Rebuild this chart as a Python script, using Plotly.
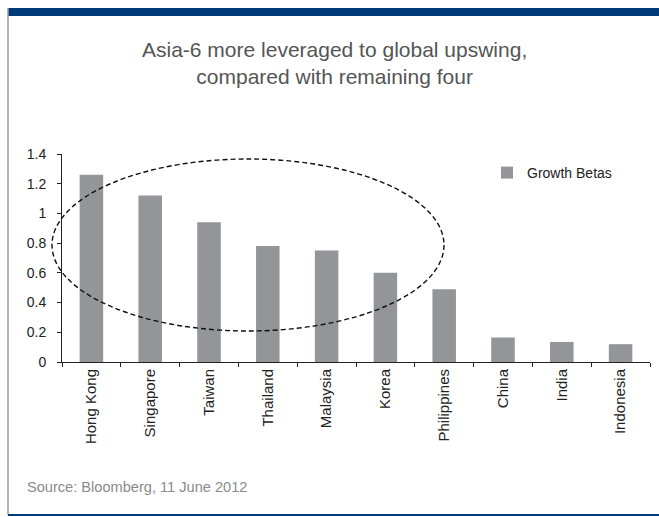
import plotly.graph_objects as go

# Growth betas by economy
countries = ["Hong Kong", "Singapore", "Taiwan", "Thailand", "Malaysia",
             "Korea", "Philippines", "China", "India", "Indonesia"]
growth_betas = [1.26, 1.12, 0.94, 0.78, 0.75, 0.60, 0.49, 0.165, 0.135, 0.12]
y_ticks = [0, 0.2, 0.4, 0.6, 0.8, 1, 1.2, 1.4]
y_tick_text = ["0", "0.2", "0.4", "0.6", "0.8", "1", "1.2", "1.4"]

FONT = "Liberation Sans, Arial, sans-serif"
NAVY = "#003a7a"
BAR_GREY = "#939598"

# Plot-area geometry in pixels, used to place paper-referenced decorations
PLOT_L, PLOT_W, PLOT_B, PLOT_H = 62, 588, 362, 208


def px_x(px):
    return (px - PLOT_L) / PLOT_W


def px_y(py):
    return (PLOT_B - py) / PLOT_H


fig = go.Figure()
fig.add_trace(go.Bar(
    x=countries, y=growth_betas, name="Growth Betas",
    marker=dict(color=BAR_GREY, line=dict(width=0)),
    width=0.4, showlegend=True,
))

# Page frame: navy band on top, grey rule on the left, navy rule at bottom
fig.add_shape(type="rect", xref="paper", yref="paper",
              x0=px_x(8), x1=px_x(670), y0=px_y(16), y1=px_y(8),
              fillcolor=NAVY, line=dict(width=0), layer="above")
fig.add_shape(type="line", xref="paper", yref="paper",
              x0=px_x(8), x1=px_x(8), y0=px_y(8), y1=px_y(515),
              line=dict(color="#9c9c9c", width=1.5))
fig.add_shape(type="line", xref="paper", yref="paper",
              x0=px_x(8), x1=px_x(670), y0=px_y(515), y1=px_y(515),
              line=dict(color=NAVY, width=2))

# Dashed ellipse around the Asia-6 group (extends past the y axis)
fig.add_shape(type="circle", xref="paper", yref="paper",
              x0=px_x(52), x1=px_x(444), y0=px_y(331), y1=px_y(159),
              line=dict(color="#111111", width=1.4, dash="5px,3px"),
              fillcolor="rgba(0,0,0,0)", layer="above")

fig.add_annotation(text="Asia-6 more leveraged to global upswing,<br>compared with remaining four",
                   xref="paper", yref="paper", x=px_x(334), y=px_y(63),
                   xanchor="center", yanchor="middle", showarrow=False,
                   font=dict(family=FONT, size=21, color="#555555"))
fig.add_annotation(text="Source: Bloomberg, 11 June 2012",
                   xref="paper", yref="paper", x=px_x(25), y=px_y(487),
                   xanchor="left", yanchor="middle", showarrow=False,
                   font=dict(family=FONT, size=14.6, color="#8a8a8a"))

fig.update_layout(
    width=659, height=517,
    margin=dict(l=PLOT_L, r=9, t=154, b=155),
    paper_bgcolor="white", plot_bgcolor="white",
    font=dict(family=FONT, color="#222222"),
    bargap=0.6,
    legend=dict(x=px_x(487), y=px_y(157), xanchor="left", yanchor="top",
                bgcolor="rgba(0,0,0,0)", font=dict(size=14, color="#222222"),
                itemwidth=30),
    xaxis=dict(type="category", range=[-0.5, 9.5], showline=True,
               linecolor="#222222", linewidth=1,
               ticks="outside", ticklen=4, tickcolor="#222222",
               tickson="boundaries", tickangle=-90,
               tickfont=dict(size=15, color="#222222"), showgrid=False),
    yaxis=dict(range=[0, 1.4], tickvals=y_ticks, ticktext=y_tick_text,
               showline=True, linecolor="#222222", linewidth=1,
               ticks="outside", ticklen=4, tickcolor="#222222",
               ticklabelstandoff=8,
               tickfont=dict(size=14, color="#222222"), showgrid=False,
               zeroline=False),
)

fig.write_html("out.html")
